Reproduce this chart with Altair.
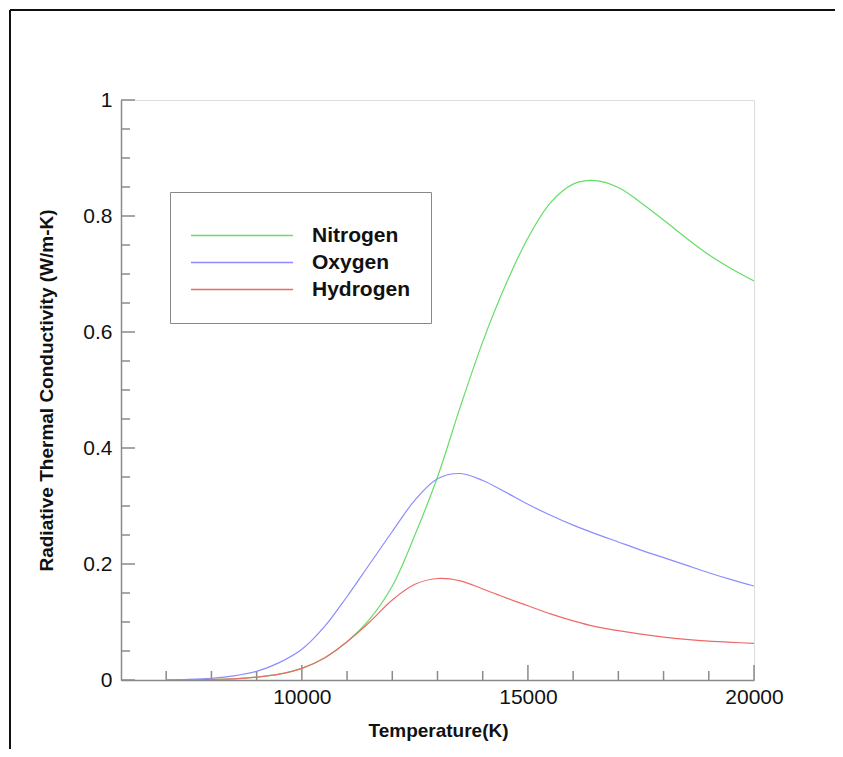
import altair as alt
import pandas as pd

# ---- data ----
temperature = [7000, 7500, 8000, 8500, 9000, 9500, 10000, 10500, 11000, 11500, 12000, 12500,
               13000, 13500, 14000, 14500, 15000, 15500, 16000, 16500, 17000, 17500, 18000,
               18500, 19000, 19500, 20000]
nitrogen = [0.000, 0.000, 0.001, 0.002, 0.005, 0.010, 0.020, 0.038, 0.066, 0.105, 0.162, 0.250,
            0.350, 0.470, 0.583, 0.680, 0.762, 0.823, 0.855, 0.861, 0.849, 0.823, 0.793,
            0.762, 0.733, 0.709, 0.688]
oxygen = [0.000, 0.001, 0.003, 0.007, 0.015, 0.030, 0.053, 0.092, 0.144, 0.200, 0.256, 0.310,
          0.347, 0.356, 0.344, 0.324, 0.303, 0.284, 0.267, 0.252, 0.238, 0.224, 0.211,
          0.198, 0.185, 0.173, 0.162]
hydrogen = [0.000, 0.000, 0.001, 0.002, 0.005, 0.010, 0.020, 0.038, 0.066, 0.100, 0.138, 0.165,
            0.175, 0.171, 0.157, 0.142, 0.128, 0.114, 0.102, 0.092, 0.085, 0.079, 0.074,
            0.070, 0.067, 0.065, 0.063]
species = ["Nitrogen", "Oxygen", "Hydrogen"]
colors = ["#66dd66", "#8c8cff", "#ee6a6a"]

x_labels = [10000, 15000, 20000]
x_minor = [7000, 8000, 9000, 11000, 12000, 13000, 14000, 16000, 17000, 18000, 19000]
y_labels = [0, 0.2, 0.4, 0.6, 0.8, 1.0]
y_minor = [0.05, 0.1, 0.15, 0.25, 0.3, 0.35, 0.45, 0.5, 0.55, 0.65, 0.7, 0.75, 0.85, 0.9, 0.95]

rows = []
for name, vals in zip(species, [nitrogen, oxygen, hydrogen]):
    for t, v in zip(temperature, vals):
        rows.append({"T": t, "k": v, "Species": name})
df = pd.DataFrame(rows)

FONT = "Liberation Sans"
W, H = 633, 580
AXIS_GRAY = "#8a8a8a"

xscale = alt.Scale(domain=[6000, 20000], nice=False, zero=False)
yscale = alt.Scale(domain=[0, 1], nice=False)

lines = alt.Chart(df).mark_line(strokeWidth=1.2, interpolate="catmull-rom", clip=True).encode(
    x=alt.X("T:Q", scale=xscale,
            axis=alt.Axis(values=x_labels, format="d", ticks=False, tickSize=0, grid=False,
                          domainColor=AXIS_GRAY, domainWidth=1.5, labelFlush=False,
                          labelFontSize=21, labelFont=FONT, labelColor="#111",
                          labelPadding=6,
                          title="Temperature(K)", titleFont=FONT, titleFontSize=19,
                          titleFontWeight="bold", titleColor="#111",
                          titleX=317, titleY=50, titleBaseline="middle")),
    y=alt.Y("k:Q", scale=yscale,
            axis=alt.Axis(values=y_labels, format="~g", ticks=False, tickSize=0, grid=False,
                          domainColor=AXIS_GRAY, domainWidth=1.5, labelFlush=False,
                          labelFontSize=21, labelFont=FONT, labelColor="#111",
                          labelPadding=9,
                          title="Radiative Thermal Conductivity (W/m-K)", titleFont=FONT,
                          titleFontSize=19, titleFontWeight="bold", titleColor="#111",
                          titleAngle=270, titleX=-75, titleY=290,
                          titleAlign="center", titleBaseline="middle")),
    color=alt.Color("Species:N", sort=species,
                    scale=alt.Scale(domain=species, range=colors),
                    legend=alt.Legend(orient="none", legendX=49, legendY=92,
                                      title=" ", titleFontSize=10, titlePadding=0,
                                      symbolType="stroke", symbolSize=10404,
                                      symbolStrokeWidth=1.5, symbolOpacity=1,
                                      clipHeight=27, rowPadding=0,
                                      labelOffset=18, labelFont=FONT, labelFontSize=21,
                                      labelFontWeight="bold", labelColor="#111",
                                      padding=20, strokeColor="#888888", fillColor="white")),
)

# inward-pointing ticks, drawn through the same scales
tick_style = dict(color=AXIS_GRAY, strokeWidth=1.5)
x_major = alt.Chart(pd.DataFrame({"T": x_labels})).mark_rule(**tick_style).encode(
    x=alt.X("T:Q", scale=xscale), y=alt.value(H), y2=alt.value(H - 15))
x_min = alt.Chart(pd.DataFrame({"T": x_minor})).mark_rule(**tick_style).encode(
    x=alt.X("T:Q", scale=xscale), y=alt.value(H), y2=alt.value(H - 9))
y_major = alt.Chart(pd.DataFrame({"k": y_labels})).mark_rule(**tick_style).encode(
    y=alt.Y("k:Q", scale=yscale), x=alt.value(0), x2=alt.value(14))
y_min = alt.Chart(pd.DataFrame({"k": y_minor})).mark_rule(**tick_style).encode(
    y=alt.Y("k:Q", scale=yscale), x=alt.value(0), x2=alt.value(9))

# page frame (decoration)
one = pd.DataFrame({"a": [0]})
frame_top = alt.Chart(one).mark_rule(color="#111", strokeWidth=2).encode(
    x=alt.value(-111), x2=alt.value(900), y=alt.value(-90))
frame_left = alt.Chart(one).mark_rule(color="#111", strokeWidth=2).encode(
    x=alt.value(-111), y=alt.value(-90), y2=alt.value(900))

chart = alt.layer(frame_top, frame_left, x_min, x_major, y_min, y_major, lines).properties(
    width=W, height=H,
    autosize=alt.AutoSizeParams(type="none"),
    padding={"left": 113, "top": 92, "right": 81, "bottom": 69},
).configure_view(strokeWidth=0).configure(background="white")

chart.save("out.html", embed_options={"renderer": "svg", "actions": False})
